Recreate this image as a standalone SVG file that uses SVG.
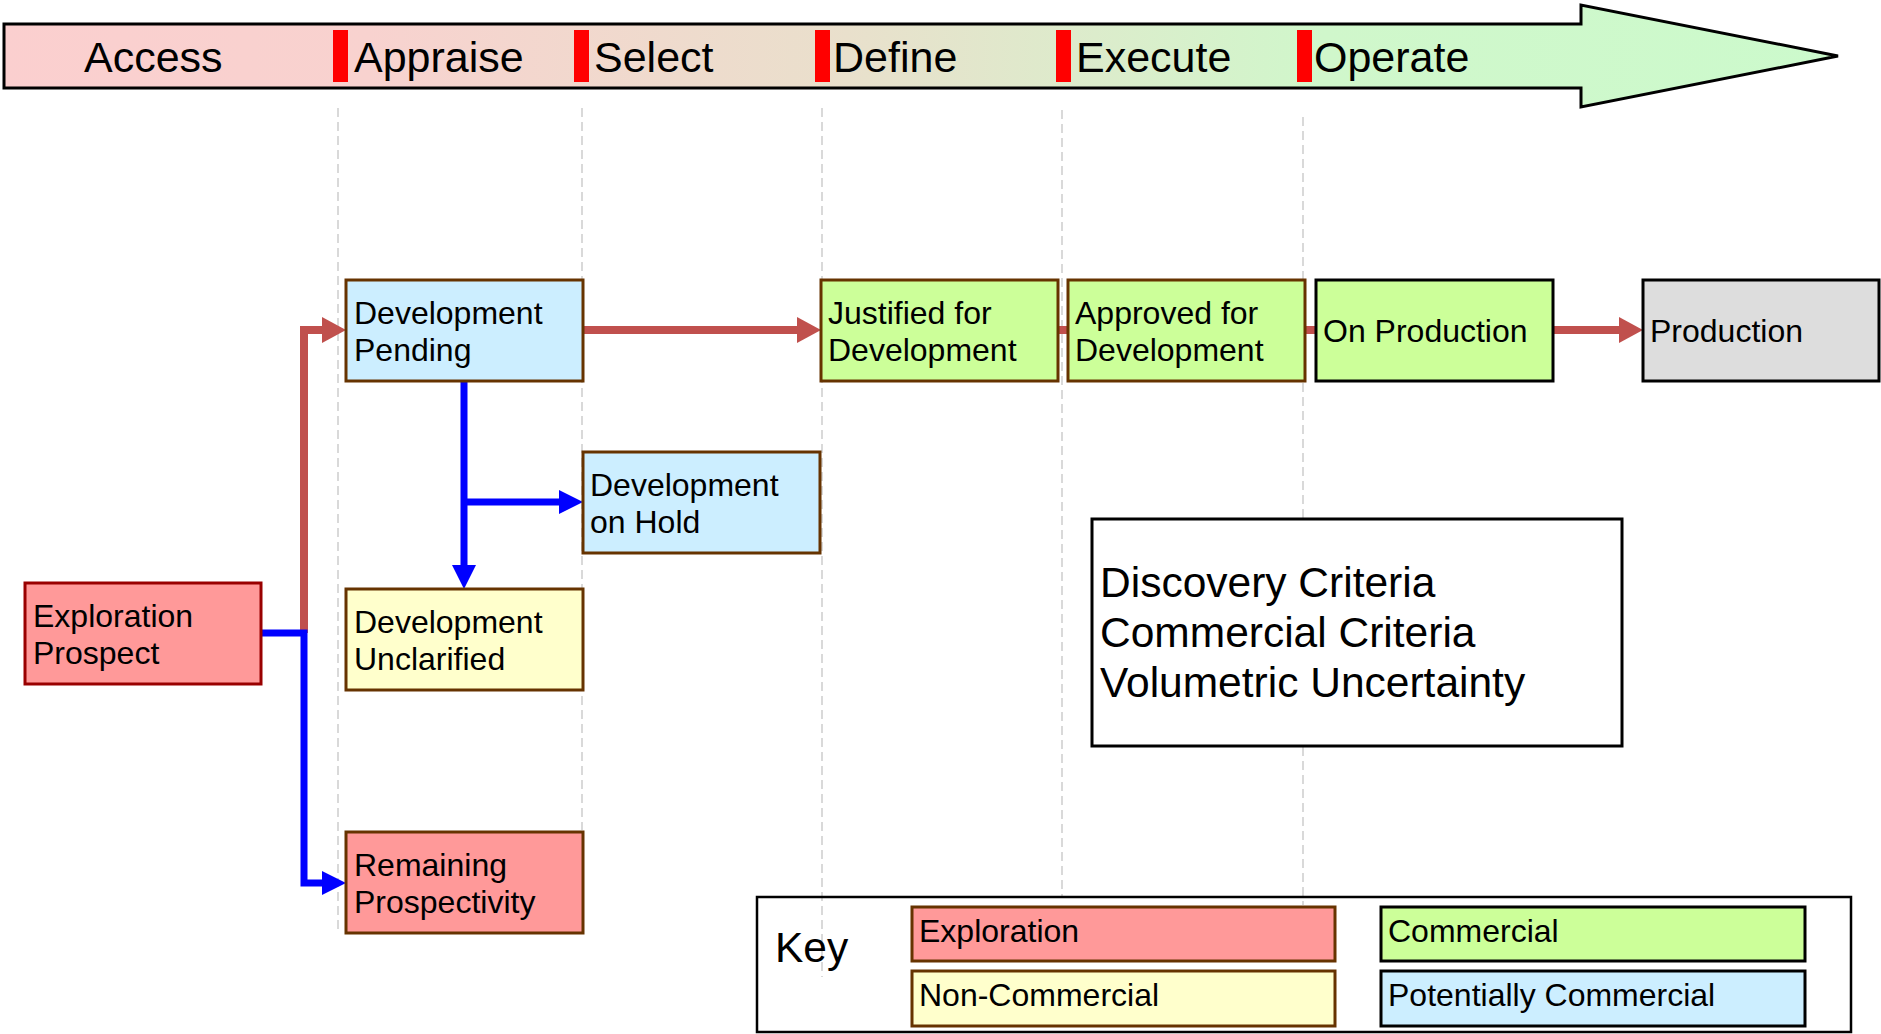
<svg xmlns="http://www.w3.org/2000/svg" width="1881" height="1034" viewBox="0 0 1881 1034">
<style>
text{font-family:"Liberation Sans",Arial,sans-serif;fill:#000}
.phase{font-size:43px}
.nt{font-size:32px}
.big{font-size:42.5px}
.bar{fill:#ff0000}
.grid{stroke:#d9d9d9;stroke-width:2;stroke-dasharray:9 5;fill:none}
.expl{fill:#ff9999;stroke:#663300;stroke-width:3}
.pot{fill:#cceeff;stroke:#663300;stroke-width:3}
.nonc{fill:#ffffcc;stroke:#663300;stroke-width:3}
.com{fill:#ccff99;stroke:#663300;stroke-width:3}
.comk{fill:#ccff99;stroke:#000;stroke-width:3}
.potk{fill:#cceeff;stroke:#000;stroke-width:3}
.red{stroke:#c0504d;stroke-width:8;fill:none}
.blue{stroke:#0000ff;stroke-width:7;fill:none}
</style>
<defs>
<linearGradient id="phaseGrad" gradientUnits="userSpaceOnUse" x1="0" y1="0" x2="1838" y2="0">
<stop offset="0" stop-color="#fbcfcf"/>
<stop offset="0.2" stop-color="#f8d2cf"/>
<stop offset="0.45" stop-color="#eadfcc"/>
<stop offset="0.72" stop-color="#d0f7cb"/>
<stop offset="1" stop-color="#ccfacc"/>
</linearGradient>
<marker id="ahRed" markerUnits="userSpaceOnUse" markerWidth="24" markerHeight="26" refX="0" refY="13" orient="auto">
<path d="M0,0 L24,13 L0,26 z" fill="#c0504d"/>
</marker>
<marker id="ahBlue" markerUnits="userSpaceOnUse" markerWidth="24" markerHeight="24" refX="0" refY="12" orient="auto">
<path d="M0,0 L24,12 L0,24 z" fill="#0000ff"/>
</marker>
</defs>
<rect width="1881" height="1034" fill="#fff"/>

<g id="phases">
<polygon points="4,24 1581,24 1581,5 1838,56 1581,107 1581,88 4,88" fill="url(#phaseGrad)" stroke="#000" stroke-width="3"/>
<rect class="bar" x="333" y="30" width="15" height="52"/>
<rect class="bar" x="574" y="30" width="15" height="52"/>
<rect class="bar" x="815" y="30" width="15" height="52"/>
<rect class="bar" x="1056" y="30" width="15" height="52"/>
<rect class="bar" x="1297" y="30" width="15" height="52"/>
<text class="phase" x="84" y="72">Access</text>
<text class="phase" x="354" y="72">Appraise</text>
<text class="phase" x="594" y="72">Select</text>
<text class="phase" x="833" y="72">Define</text>
<text class="phase" x="1076" y="72">Execute</text>
<text class="phase" x="1314" y="72">Operate</text>
</g>

<g id="gridlines">
<line class="grid" x1="338" y1="108" x2="338" y2="930"/>
<line class="grid" x1="582" y1="108" x2="582" y2="830"/>
<line class="grid" x1="822" y1="108" x2="822" y2="977"/>
<line class="grid" x1="1062" y1="110" x2="1062" y2="898"/>
<line class="grid" x1="1303" y1="117" x2="1303" y2="905"/>
</g>

<g id="criteria">
<rect x="1092" y="519" width="530" height="227" fill="#fff" stroke="#000" stroke-width="3"/>
<text class="big" x="1100" y="597">Discovery Criteria</text>
<text class="big" x="1100" y="647">Commercial Criteria</text>
<text class="big" x="1100" y="697">Volumetric Uncertainty</text>
</g>

<g id="connectors">
<path class="red" d="M304,633 V330 H322" marker-end="url(#ahRed)"/>
<path class="blue" d="M261,633 H304 V883 H322" marker-end="url(#ahBlue)"/>
<path class="red" d="M583,330 H797" marker-end="url(#ahRed)"/>
<path class="red" d="M1058,330 H1068"/>
<path class="red" d="M1305,330 H1316"/>
<path class="red" d="M1553,330 H1619" marker-end="url(#ahRed)"/>
<path class="blue" d="M464,381 V565" marker-end="url(#ahBlue)"/>
<path class="blue" d="M464,502 H559" marker-end="url(#ahBlue)"/>
</g>

<g id="exploration-prospect">
<rect x="25" y="583" width="236" height="101" fill="#ff9999" stroke="#990000" stroke-width="3"/>
<text class="nt" x="33" y="627">Exploration</text>
<text class="nt" x="33" y="664">Prospect</text>
</g>
<g id="development-pending">
<rect class="pot" x="346" y="280" width="237" height="101"/>
<text class="nt" x="354" y="324">Development</text>
<text class="nt" x="354" y="361">Pending</text>
</g>
<g id="development-on-hold">
<rect class="pot" x="583" y="452" width="237" height="101"/>
<text class="nt" x="590" y="496">Development</text>
<text class="nt" x="590" y="533">on Hold</text>
</g>
<g id="development-unclarified">
<rect class="nonc" x="346" y="589" width="237" height="101"/>
<text class="nt" x="354" y="633">Development</text>
<text class="nt" x="354" y="670">Unclarified</text>
</g>
<g id="remaining-prospectivity">
<rect class="expl" x="346" y="832" width="237" height="101"/>
<text class="nt" x="354" y="876">Remaining</text>
<text class="nt" x="354" y="913">Prospectivity</text>
</g>
<g id="justified-for-development">
<rect class="com" x="821" y="280" width="237" height="101"/>
<text class="nt" x="828" y="324">Justified for</text>
<text class="nt" x="828" y="361">Development</text>
</g>
<g id="approved-for-development">
<rect class="com" x="1068" y="280" width="237" height="101"/>
<text class="nt" x="1075" y="324">Approved for</text>
<text class="nt" x="1075" y="361">Development</text>
</g>
<g id="on-production">
<rect class="comk" x="1316" y="280" width="237" height="101"/>
<text class="nt" x="1323" y="342">On Production</text>
</g>
<g id="production">
<rect x="1643" y="280" width="236" height="101" fill="#dddddd" stroke="#000" stroke-width="3"/>
<text class="nt" x="1650" y="342">Production</text>
</g>

<g id="key">
<rect x="757" y="897" width="1094" height="135" fill="none" stroke="#000" stroke-width="2.5"/>
<text class="big" x="775" y="962">Key</text>
<rect class="expl" x="912" y="907" width="423" height="54"/>
<text class="nt" x="919" y="942">Exploration</text>
<rect class="comk" x="1381" y="907" width="424" height="54"/>
<text class="nt" x="1388" y="942">Commercial</text>
<rect class="nonc" x="912" y="971" width="423" height="55"/>
<text class="nt" x="919" y="1006">Non-Commercial</text>
<rect class="potk" x="1381" y="971" width="424" height="55"/>
<text class="nt" x="1388" y="1006">Potentially Commercial</text>
</g>
</svg>
